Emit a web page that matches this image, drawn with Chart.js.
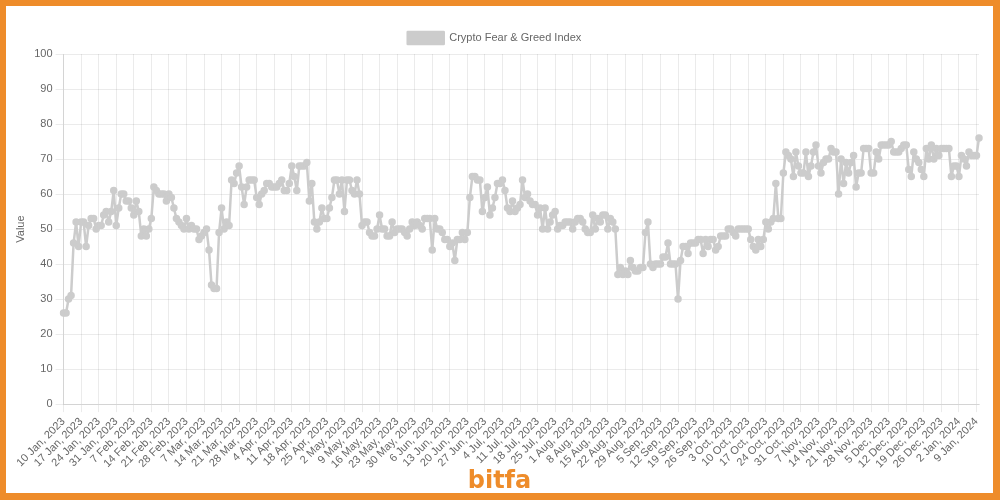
<!DOCTYPE html>
<html>
<head>
<meta charset="utf-8">
<script src="https://cdn.jsdelivr.net/npm/chart.js@4/dist/chart.umd.min.js"></script>
<style>
  html, body { margin: 0; padding: 0; }
  body { width: 1000px; height: 500px; background: #ee8c2a; position: relative; overflow: hidden; font-family: 'Liberation Sans', Arial, sans-serif; }
  .card { position: absolute; left: 6px; top: 6px; width: 987px; height: 487px; background: #fff; }
  .chart-wrap { position: absolute; left: 0; top: 0; width: 987px; height: 468px; }
  .logo { position: absolute; left: 0; width: 987px; top: 460px; text-align: center; color: #ee8c2a; font: bold 24px 'DejaVu Sans', sans-serif; }
</style>
</head>
<body>
<div class="card">
  <div class="chart-wrap"><canvas id="fgi"></canvas></div>
  <div class="logo">bitfa</div>
</div>
<script>
// 日次の Fear & Greed 値（2023-01-10 〜 2024-01-10）
const START_DATE = '2023-01-10';
const jan2023 = [26, 26, 30, 31, 46, 52, 45, 52, 52, 45, 51, 53, 53, 50, 51, 51, 54, 55, 52, 55, 61, 51];
const feb2023 = [56, 60, 60, 58, 58, 56, 54, 58, 55, 48, 50, 48, 50, 53, 62, 61, 60, 60, 60, 58, 60, 59, 56, 53, 52, 51, 50, 53];
const mar2023 = [50, 51, 50, 50, 47, 48, 49, 50, 44, 34, 33, 33, 49, 56, 50, 52, 51, 64, 63, 66, 68, 62, 57, 62, 64, 64, 64, 59, 57, 60, 61];
const apr2023 = [63, 63, 62, 62, 62, 63, 64, 61, 61, 63, 68, 65, 61, 68, 68, 68, 69, 58, 63, 52, 50, 52, 56, 53, 53, 56, 59, 64, 64, 60];
const may2023 = [64, 55, 64, 64, 61, 60, 64, 60, 51, 52, 52, 49, 48, 48, 50, 54, 50, 50, 48, 48, 52, 49, 50, 50, 50, 49, 48, 50, 52, 51, 52];
const jun2023 = [51, 50, 53, 53, 53, 44, 53, 50, 50, 49, 47, 47, 45, 46, 41, 47, 47, 49, 47, 49, 59, 65, 65, 64, 64, 55, 59, 62, 54, 56];
const jul2023 = [59, 63, 63, 64, 61, 56, 55, 58, 55, 56, 57, 64, 59, 60, 58, 57, 57, 54, 56, 50, 56, 50, 52, 54, 55, 50, 51, 51, 52, 52, 52];
const aug2023 = [50, 52, 53, 53, 52, 50, 49, 49, 54, 50, 53, 52, 54, 54, 50, 53, 52, 50, 37, 39, 37, 38, 37, 41, 39, 38, 38, 39, 39, 49, 52];
const sep2023 = [40, 39, 40, 40, 40, 42, 42, 46, 40, 40, 40, 30, 41, 45, 45, 43, 46, 46, 46, 47, 47, 43, 47, 45, 47, 47, 44, 45, 48, 48];
const oct2023 = [48, 50, 50, 49, 48, 50, 50, 50, 50, 50, 47, 45, 44, 47, 45, 47, 52, 50, 52, 53, 63, 53, 53, 66, 72, 71, 70, 65, 72, 68, 66];
const nov2023 = [66, 72, 65, 68, 72, 74, 68, 66, 69, 70, 70, 73, 72, 72, 60, 70, 63, 69, 66, 69, 71, 62, 66, 66, 73, 73, 73, 66, 66, 72];
const dec2023 = [70, 74, 74, 74, 74, 75, 72, 72, 72, 73, 74, 74, 67, 65, 72, 70, 69, 67, 65, 73, 70, 74, 70, 73, 71, 73, 73, 73, 73, 65, 68];
const jan2024 = [68, 65, 71, 70, 68, 72, 71, 71, 71, 76];

const values = [].concat(jan2023, feb2023, mar2023, apr2023, may2023, jun2023,
  jul2023, aug2023, sep2023, oct2023, nov2023, dec2023, jan2024);

const MONTHS = ['Jan', 'Feb', 'Mar', 'Apr', 'May', 'Jun', 'Jul', 'Aug', 'Sep', 'Oct', 'Nov', 'Dec'];
const yTicks = [0, 10, 20, 30, 40, 50, 60, 70, 80, 90, 100];

// 日付ラベル "10 Jan, 2023"
const labels = values.map((_, i) => {
  const d = new Date(START_DATE + 'T00:00:00Z');
  d.setUTCDate(d.getUTCDate() + i);
  return `${d.getUTCDate()} ${MONTHS[d.getUTCMonth()]}, ${d.getUTCFullYear()}`;
});

Chart.defaults.font.family = "'Liberation Sans', Arial, sans-serif";
Chart.defaults.color = '#666';

new Chart(document.getElementById('fgi'), {
  type: 'line',
  data: {
    labels,
    datasets: [{
      label: 'Crypto Fear & Greed Index',
      data: values,
      borderColor: '#cccccc',
      backgroundColor: '#cccccc',
      pointBackgroundColor: '#cccccc',
      pointBorderColor: '#cccccc',
      pointRadius: 2.5,
      borderWidth: 2.5,
      borderJoinStyle: 'round',
      tension: 0,
      fill: false,
    }],
  },
  options: {
    responsive: true,
    maintainAspectRatio: false,
    animation: false,
    layout: { padding: { left: 4, right: 14, top: 16, bottom: 0 } },
    scales: {
      x: {
        grid: { color: 'rgba(0,0,0,0.08)' },
        ticks: {
          autoSkip: false,
          maxRotation: 45,
          minRotation: 45,
          font: { size: 11 },
          callback(val, idx) {
            return idx % 7 === 0 ? labels[idx] : null;
          },
        },
      },
      y: {
        min: 0,
        max: 100,
        afterBuildTicks(scale) { scale.ticks = yTicks.map(v => ({ value: v })); },
        grid: { color: 'rgba(0,0,0,0.08)' },
        ticks: { font: { size: 11 } },
        title: { display: true, text: 'Value', font: { size: 11 } },
      },
    },
    plugins: {
      legend: {
        position: 'top',
        labels: { font: { size: 11 }, boxWidth: 36, boxHeight: 12 },
      },
      tooltip: { enabled: false },
    },
  },
});
</script>
</body>
</html>
